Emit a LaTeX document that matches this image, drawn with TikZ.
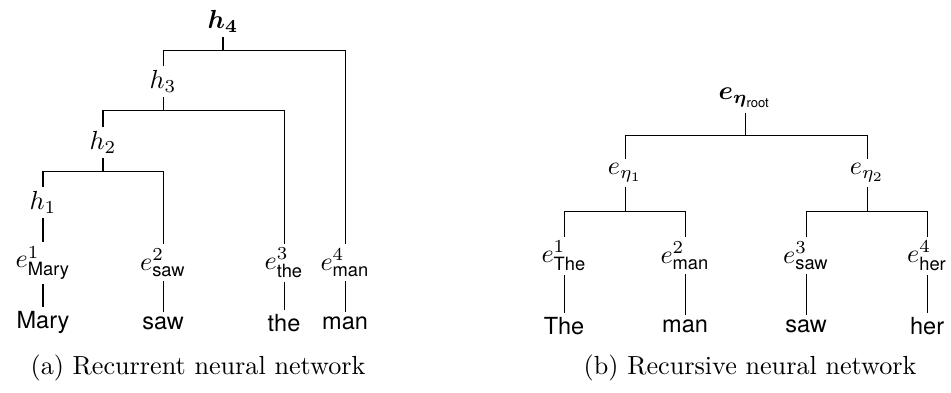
\documentclass[tikz,border=0pt]{standalone}
\usepackage{amsmath}
\usepackage{fontspec}
\setsansfont{TeX Gyre Heros}
\usepackage{tikz}

\newcommand{\wordsub}[1]{\text{\sffamily #1}}

\begin{document}
\begin{tikzpicture}[
  vec/.style={inner sep=1.5pt},
  word/.style={font=\sffamily\fontsize{9}{11}\selectfont, inner sep=1.5pt}
]
\useasboundingbox (0,0) rectangle (12.78,5.28);

% (a) Rede recorrente: estados ocultos
\node[vec] (h4) at (2.997,4.986) {$\boldsymbol{h_4}$};
\node[vec] (h3) at (2.191,4.180) {$h_3$};
\node[vec] (h2) at (1.384,3.360) {$h_2$};
\node[vec] (h1) at (0.578,2.554) {$h_1$};

% (a) Embeddings das palavras
\node[vec] (ea1) at (0.578,1.747) {$e^1_{\wordsub{Mary}}$};
\node[vec] (ea2) at (2.191,1.747) {$e^2_{\wordsub{saw}}$};
\node[vec] (ea3) at (3.817,1.747) {$e^3_{\wordsub{the}}$};
\node[vec] (ea4) at (4.637,1.747) {$e^4_{\wordsub{man}}$};

% (a) Palavras
\node[word] (wa1) at (0.578,0.941) {Mary};
\node[word] (wa2) at (2.191,0.941) {saw};
\node[word] (wa3) at (3.817,0.941) {the};
\node[word] (wa4) at (4.637,0.941) {man};

% (a) Ligações
\coordinate (ba4) at (2.997,4.596);
\coordinate (ba3) at (2.191,3.790);
\coordinate (ba2) at (1.384,2.970);
\draw (h4) -- (ba4);
\draw (h3) |- (ba4) -| (ea4);
\draw (h3) -- (ba3);
\draw (h2) |- (ba3) -| (ea3);
\draw (h2) -- (ba2);
\draw (h1) |- (ba2) -| (ea2);
\draw (h1) -- (ea1);
\draw (ea1) -- (wa1);
\draw (ea2) -- (wa2);
\draw (ea3) -- (wa3);
\draw (ea4) -- (wa4);

% Legenda (a)
\node (capa) at (2.661,0.336) {(a) Recurrent neural network};

% (b) Rede recursiva: nós internos
\node[vec] (root) at (10.013,3.965) {$\boldsymbol{e}_{\boldsymbol{\eta}_{\wordsub{root}}}$};
\node[vec] (eta1) at (8.400,2.957) {$e_{\eta_1}$};
\node[vec] (eta2) at (11.652,2.957) {$e_{\eta_2}$};

% (b) Embeddings das palavras
\node[vec] (eb1) at (7.580,1.841) {$e^1_{\wordsub{The}}$};
\node[vec] (eb2) at (9.206,1.841) {$e^2_{\wordsub{man}}$};
\node[vec] (eb3) at (10.833,1.841) {$e^3_{\wordsub{saw}}$};
\node[vec] (eb4) at (12.459,1.841) {$e^4_{\wordsub{her}}$};

% (b) Palavras
\node[word] (wb1) at (7.580,0.900) {The};
\node[word] (wb2) at (9.206,0.900) {man};
\node[word] (wb3) at (10.833,0.900) {saw};
\node[word] (wb4) at (12.459,0.900) {her};

% (b) Ligações
\coordinate (bb0) at (10.013,3.454);
\coordinate (bb1) at (8.400,2.433);
\coordinate (bb2) at (11.652,2.433);
\draw (root) -- (bb0);
\draw (eta1) |- (bb0) -| (eta2);
\draw (eta1) -- (bb1);
\draw (eb1) |- (bb1) -| (eb2);
\draw (eta2) -- (bb2);
\draw (eb3) |- (bb2) -| (eb4);
\draw (eb1) -- (wb1);
\draw (eb2) -- (wb2);
\draw (eb3) -- (wb3);
\draw (eb4) -- (wb4);

% Legenda (b)
\node (capb) at (10.080,0.336) {(b) Recursive neural network};

\end{tikzpicture}
\end{document}
